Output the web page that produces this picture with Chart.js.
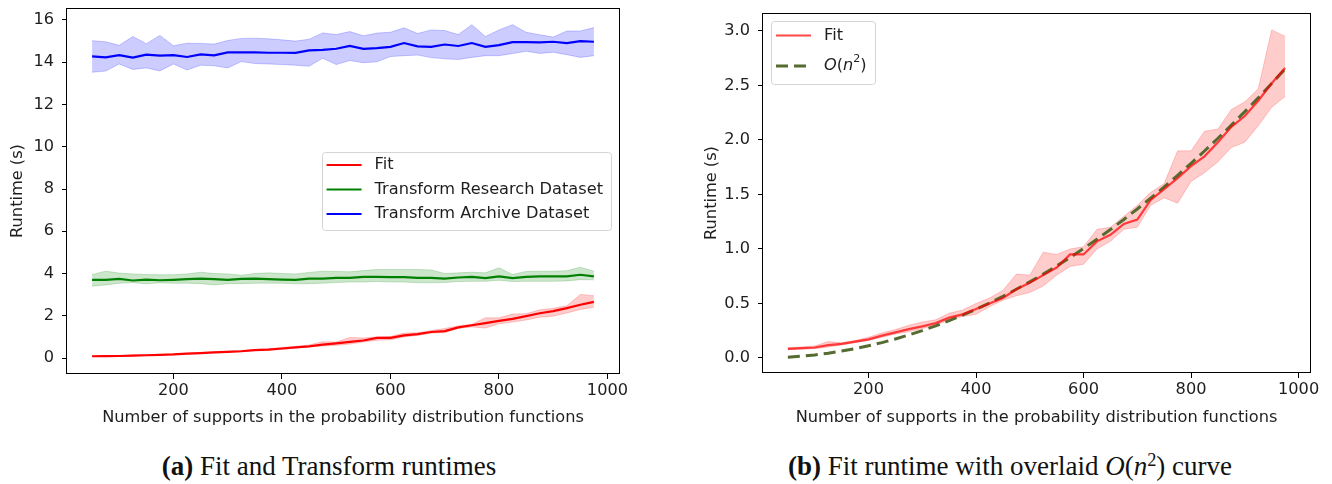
<!DOCTYPE html>
<html>
<head>
<meta charset="utf-8">
<script src="https://cdn.jsdelivr.net/npm/chart.js@4.4.1/dist/chart.umd.min.js"></script>
<style>
  body { margin: 0; background: #fff; width: 1332px; height: 484px; position: relative; overflow: hidden; }
  canvas { position: absolute; top: 0; }
  #fitTransform { left: 0; }
  #fitQuad { left: 680px; }
  .caption { position: absolute; top: 451px; line-height: 30px; font-family: "Liberation Serif", serif; font-size: 27px; color: #111; white-space: nowrap; transform: translateX(-50%); }
  .caption sup { font-size: 0.68em; line-height: 0; vertical-align: 0.5em; }
</style>
</head>
<body>
<canvas id="fitTransform" width="640" height="432"></canvas>
<canvas id="fitQuad" width="652" height="432"></canvas>
<div class="caption" style="left:329px"><b>(a)</b> Fit and Transform runtimes</div>
<div class="caption" style="left:1010px"><b>(b)</b> Fit runtime with overlaid <i>O</i>(<i>n</i><sup>2</sup>) curve</div>
<script>
// number of supports on the x axis
const supports = [50, 75, 100, 125, 150, 175, 200, 225, 250, 275, 300, 325, 350, 375, 400, 425, 450, 475, 500,
  525, 550, 575, 600, 625, 650, 675, 700, 725, 750, 775, 800, 825, 850, 875, 900, 925, 950, 975];

const fitMean = [0.083, 0.09, 0.096, 0.117, 0.13, 0.15, 0.17, 0.205, 0.235, 0.265, 0.29, 0.32, 0.37, 0.40, 0.45, 0.50, 0.55, 0.63, 0.69,
  0.76, 0.83, 0.95, 0.95, 1.07, 1.13, 1.23, 1.27, 1.45, 1.55, 1.65, 1.76, 1.85, 1.98, 2.12, 2.22, 2.36, 2.52, 2.66];
const fitUpper = [0.095, 0.10, 0.11, 0.15, 0.14, 0.16, 0.19, 0.23, 0.26, 0.30, 0.33, 0.35, 0.41, 0.44, 0.50, 0.55, 0.62, 0.77, 0.76,
  0.97, 0.95, 1.00, 1.02, 1.18, 1.20, 1.30, 1.40, 1.52, 1.60, 1.90, 1.90, 2.08, 2.10, 2.28, 2.35, 2.47, 3.01, 2.95];
const fitLower = [0.075, 0.08, 0.085, 0.10, 0.12, 0.14, 0.16, 0.19, 0.22, 0.24, 0.27, 0.30, 0.35, 0.38, 0.40, 0.47, 0.53, 0.57, 0.60,
  0.66, 0.76, 0.84, 0.86, 1.00, 1.07, 1.18, 1.20, 1.40, 1.47, 1.42, 1.62, 1.70, 1.80, 1.93, 1.98, 2.13, 2.30, 2.40];

const researchMean = [3.70, 3.70, 3.75, 3.67, 3.71, 3.68, 3.70, 3.73, 3.76, 3.73, 3.70, 3.75, 3.76, 3.73, 3.71, 3.70, 3.76, 3.76, 3.79,
  3.79, 3.84, 3.84, 3.83, 3.83, 3.79, 3.79, 3.76, 3.81, 3.84, 3.78, 3.86, 3.78, 3.84, 3.86, 3.86, 3.86, 3.94, 3.86];
const researchUpper = [3.95, 4.11, 4.02, 3.98, 3.95, 3.94, 3.94, 3.98, 4.06, 4.00, 3.98, 3.92, 4.00, 4.03, 4.00, 3.98, 4.05, 4.11, 4.10,
  4.08, 4.14, 4.19, 4.19, 4.19, 4.19, 4.17, 4.00, 4.03, 4.06, 4.03, 4.27, 3.95, 4.10, 4.11, 4.11, 4.13, 4.30, 4.11];
const researchLower = [3.40, 3.46, 3.54, 3.57, 3.51, 3.56, 3.54, 3.54, 3.52, 3.46, 3.52, 3.52, 3.54, 3.54, 3.54, 3.51, 3.52, 3.54, 3.57,
  3.60, 3.60, 3.62, 3.60, 3.60, 3.56, 3.56, 3.57, 3.62, 3.63, 3.63, 3.68, 3.62, 3.63, 3.63, 3.63, 3.65, 3.71, 3.70];

const archiveMean = [14.28, 14.23, 14.34, 14.22, 14.36, 14.31, 14.34, 14.25, 14.37, 14.33, 14.47, 14.47, 14.47, 14.45, 14.45, 14.44, 14.56, 14.59, 14.64,
  14.77, 14.63, 14.67, 14.73, 14.91, 14.75, 14.73, 14.84, 14.77, 14.91, 14.73, 14.81, 14.95, 14.95, 14.94, 14.97, 14.91, 15.00, 14.97];
const archiveUpper = [15.02, 14.97, 14.80, 15.22, 14.88, 15.27, 14.78, 14.90, 14.89, 14.86, 15.03, 15.13, 15.14, 15.11, 15.06, 15.00, 15.09, 15.39, 15.31,
  15.45, 15.25, 15.38, 15.42, 15.63, 15.36, 15.53, 15.50, 15.31, 15.78, 15.22, 15.53, 15.78, 15.42, 15.30, 15.19, 15.48, 15.48, 15.64];
const archiveLower = [13.53, 13.58, 13.92, 13.66, 13.73, 13.59, 13.92, 13.63, 13.86, 13.83, 13.73, 14.03, 13.94, 13.92, 13.89, 13.86, 13.81, 14.19, 13.89,
  14.08, 13.98, 14.02, 14.27, 14.31, 14.34, 14.22, 14.16, 14.13, 14.23, 14.31, 14.31, 14.41, 14.52, 14.42, 14.47, 14.36, 14.23, 14.31];

// dashed O(n^2) reference curve
const quadCurve = [0.007, 0.016, 0.028, 0.044, 0.063, 0.085, 0.112, 0.141, 0.174, 0.211, 0.251, 0.295, 0.342, 0.392, 0.446, 0.504, 0.565, 0.630, 0.698,
  0.769, 0.844, 0.922, 1.004, 1.090, 1.179, 1.271, 1.367, 1.467, 1.569, 1.676, 1.786, 1.899, 2.016, 2.136, 2.260, 2.387, 2.518, 2.652];

const xTicks = [200, 400, 600, 800, 1000];
const leftYTicks = [0, 2, 4, 6, 8, 10, 12, 14, 16];
const rightYTicks = [0, 0.5, 1.0, 1.5, 2.0, 2.5, 3.0];

const FONT = '"DejaVu Sans", sans-serif';
const FS = 16.2;
const textColor = '#1e1e1e';
const tickFont = { family: FONT, size: FS };

const pts = (ys) => supports.map((x, i) => ({ x, y: ys[i] }));

function band(upper, lower, rgb) {
  const c = `rgba(${rgb},0.2)`;
  return [
    { data: pts(upper), borderColor: c, borderWidth: 1, pointRadius: 0, fill: false, order: 1 },
    { data: pts(lower), borderColor: c, borderWidth: 1, pointRadius: 0, fill: '-1', backgroundColor: c, order: 1 },
  ];
}

function meanLine(ys, color, width, dash) {
  return { data: pts(ys), borderColor: color, borderWidth: width, borderDash: dash || [], pointRadius: 0, fill: false, order: 0 };
}

// legend text pieces: [text, style] with style '', 'i' or 'sup'
function partFont(style) {
  if (style === 'i') return `italic ${FS}px ${FONT}`;
  if (style === 'sup') return `${Math.round(FS * 0.7)}px ${FONT}`;
  return `${FS}px ${FONT}`;
}

function partsWidth(ctx, parts) {
  let w = 0;
  parts.forEach(([t, s]) => { ctx.font = partFont(s); w += ctx.measureText(t).width; });
  return w;
}

function drawParts(ctx, parts, x, y) {
  ctx.fillStyle = textColor;
  ctx.textBaseline = 'middle';
  ctx.textAlign = 'left';
  parts.forEach(([t, s]) => {
    ctx.font = partFont(s);
    ctx.fillText(t, x, s === 'sup' ? y - 7 : y);
    x += ctx.measureText(t).width;
  });
}

const boxLegend = {
  id: 'boxLegend',
  afterDatasetsDraw(chart, args, opts) {
    if (!opts.items) return;
    const { ctx, chartArea: area } = chart;
    ctx.save();
    const textW = Math.max(...opts.items.map((it) => partsWidth(ctx, it.parts)));
    const boxW = 5 + 35 + 13 + textW + 8;
    const boxH = opts.padTop + opts.rowH * (opts.items.length - 1) + opts.padBottom;
    const left = opts.anchor === 'right' ? area.right - 8 - boxW : area.left + 8;
    const top = opts.anchor === 'right' ? (area.top + area.bottom) / 2 - boxH / 2 : area.top + 8;
    ctx.fillStyle = 'rgba(255,255,255,0.8)';
    ctx.strokeStyle = '#d4d4d4';
    ctx.lineWidth = 1;
    ctx.beginPath();
    ctx.roundRect(Math.round(left) + 0.5, Math.round(top) + 0.5, Math.round(boxW), Math.round(boxH), 3);
    ctx.fill();
    ctx.stroke();
    opts.items.forEach((it, i) => {
      const y = top + opts.padTop + i * opts.rowH;
      ctx.strokeStyle = it.color;
      ctx.lineWidth = it.width;
      ctx.setLineDash(it.dash || []);
      ctx.beginPath();
      ctx.moveTo(left + 5, y);
      ctx.lineTo(left + 40, y);
      ctx.stroke();
      ctx.setLineDash([]);
      drawParts(ctx, it.parts, left + 53, y);
    });
    ctx.restore();
  },
};

// matplotlib-like box round the axes
const frame = {
  id: 'frame',
  afterDatasetsDraw(chart) {
    const { ctx, chartArea: a } = chart;
    ctx.save();
    ctx.strokeStyle = '#000';
    ctx.lineWidth = 1;
    ctx.strokeRect(Math.round(a.left) - 0.5, Math.round(a.top) + 0.5, Math.round(a.right - a.left) + 1, Math.round(a.bottom - a.top) - 1);
    ctx.restore();
  },
};

function runtimeOptions(cfg) {
  return {
    responsive: false,
    animation: false,
    devicePixelRatio: 1,
    layout: { padding: { top: cfg.top, right: cfg.right, left: 0, bottom: 0 } },
    plugins: { legend: { display: false }, tooltip: { enabled: false }, boxLegend: cfg.legend },
    scales: {
      x: {
        type: 'linear',
        min: 3.75,
        max: 1021.25,
        afterBuildTicks: (s) => { s.ticks = xTicks.map((v) => ({ value: v })); },
        afterFit: (s) => { s.height = cfg.xAxisH; s.paddingLeft = 0; s.paddingRight = 0; },
        grid: { drawOnChartArea: false, color: '#000', tickLength: 5 },
        border: { display: false },
        ticks: { color: textColor, font: tickFont, padding: 2, maxRotation: 0, autoSkip: false, callback: (v) => String(v) },
        title: {
          display: true,
          text: 'Number of supports in the probability distribution functions',
          color: textColor,
          font: tickFont,
          padding: { top: 0, bottom: 4 },
        },
      },
      y: {
        type: 'linear',
        min: cfg.yMin,
        max: cfg.yMax,
        afterBuildTicks: (s) => { s.ticks = cfg.yTicks.map((v) => ({ value: v })); },
        afterFit: (s) => { s.width = cfg.yAxisW; s.paddingTop = 0; s.paddingBottom = 0; },
        grid: { drawOnChartArea: false, color: '#000', tickLength: 5 },
        border: { display: false },
        ticks: { color: textColor, font: tickFont, padding: 8, callback: cfg.yFmt },
        title: { display: true, text: 'Runtime (s)', color: textColor, font: tickFont, padding: { top: cfg.yTitlePad, bottom: 0 } },
      },
    },
  };
}

new Chart(document.getElementById('fitTransform'), {
  type: 'line',
  data: {
    datasets: [
      ...band(fitUpper, fitLower, '255,0,0'),
      ...band(researchUpper, researchLower, '0,128,0'),
      ...band(archiveUpper, archiveLower, '0,0,255'),
      meanLine(fitMean, 'rgb(255,0,0)', 2.2),
      meanLine(researchMean, 'rgb(0,128,0)', 2.2),
      meanLine(archiveMean, 'rgb(0,0,255)', 2.2),
    ],
  },
  options: runtimeOptions({
    top: 8, right: 21, yAxisW: 67, xAxisH: 58, yTitlePad: 8,
    yMin: -0.757, yMax: 16.568, yTicks: leftYTicks,
    yFmt: (v) => String(v),
    legend: {
      anchor: 'right', padTop: 13, rowH: 24.5, padBottom: 16,
      items: [
        { parts: [['Fit', '']], color: 'rgb(255,0,0)', width: 2 },
        { parts: [['Transform Research Dataset', '']], color: 'rgb(0,128,0)', width: 2 },
        { parts: [['Transform Archive Dataset', '']], color: 'rgb(0,0,255)', width: 2 },
      ],
    },
  }),
  plugins: [boxLegend, frame],
});

new Chart(document.getElementById('fitQuad'), {
  type: 'line',
  data: {
    datasets: [
      ...band(fitUpper, fitLower, '255,0,0'),
      meanLine(fitMean, 'rgba(255,0,0,0.72)', 2.2),
      meanLine(quadCurve, '#556b2f', 3, [12, 6]),
    ],
  },
  options: runtimeOptions({
    top: 13, right: 22, yAxisW: 83, xAxisH: 59, yTitlePad: 22,
    yMin: -0.138, yMax: 3.165, yTicks: rightYTicks,
    yFmt: (v) => v.toFixed(1),
    legend: {
      anchor: 'left', padTop: 14.5, rowH: 30.5, padBottom: 18,
      items: [
        { parts: [['Fit', '']], color: 'rgba(255,0,0,0.72)', width: 2 },
        { parts: [['O', 'i'], ['(', ''], ['n', 'i'], ['2', 'sup'], [')', '']], color: '#556b2f', width: 3, dash: [12, 6] },
      ],
    },
  }),
  plugins: [boxLegend, frame],
});
</script>
</body>
</html>
